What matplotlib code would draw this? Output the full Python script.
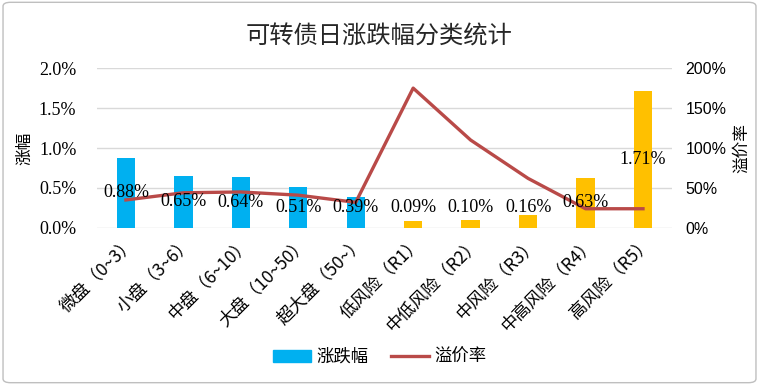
import matplotlib.pyplot as plt
import matplotlib.patches as mpatches
from matplotlib.lines import Line2D
import numpy as np

plt.rcParams['font.family'] = ['Noto Sans CJK SC', 'DejaVu Sans']

# data
categories = ['微盘（0~3）', '小盘（3~6）', '中盘（6~10）', '大盘（10~50）', '超大盘（50~）',
              '低风险（R1）', '中低风险（R2）', '中风险（R3）', '中高风险（R4）', '高风险（R5）']
change_pct = [0.88, 0.65, 0.64, 0.51, 0.39, 0.09, 0.10, 0.16, 0.63, 1.71]
premium_pct = [35, 44, 45, 41, 32, 175, 110, 62, 24, 24]
left_ticks = [0.0, 0.5, 1.0, 1.5, 2.0]
right_ticks = [0, 50, 100, 150, 200]

blue = '#00B0F0'
gold = '#FFC000'
red = '#B94A48'
bar_colors = [blue] * 5 + [gold] * 5

fig = plt.figure(figsize=(7.59, 3.85), dpi=100)
ax = fig.add_axes([0.128, 0.408, 0.757, 0.415])
x = np.arange(len(categories))

ax.bar(x, change_pct, width=0.32, color=bar_colors, zorder=2)
ax.set_xlim(-0.5, len(categories) - 0.5)
ax.set_ylim(0, 2.0)
ax.set_yticks(left_ticks)
ax.set_yticklabels([f'{t:.1f}%' for t in left_ticks], family='Liberation Serif', fontsize=13)
ax.grid(axis='y', color='#D9D9D9', linewidth=1, zorder=0)
ax.set_axisbelow(True)
for s in ax.spines.values():
    s.set_visible(False)
ax.tick_params(axis='y', length=0, pad=15)
ax.tick_params(axis='x', length=0, pad=4)
ax.set_xticks(x)
ax.set_xticklabels(categories, rotation=45, ha='right', rotation_mode='anchor', fontsize=12.5)
ax.set_ylabel('涨幅', fontsize=12, labelpad=4)

ax2 = ax.twinx()
ax2.plot(x, premium_pct, color=red, linewidth=2.4, zorder=3)
ax2.set_ylim(0, 200)
ax2.set_yticks(right_ticks)
ax2.set_yticklabels([f'{t}%' for t in right_ticks], family='Liberation Sans', fontsize=11.5)
for s in ax2.spines.values():
    s.set_visible(False)
ax2.tick_params(length=0, pad=10)
ax2.set_ylabel('溢价率', fontsize=12, rotation=90, labelpad=5)

# data labels at middle of each bar
for i, v in enumerate(change_pct):
    ypos = max(v / 2, 0.25)
    ax2.text(i, ypos * 100, f'{v:.2f}%', ha='center', va='center',
             family='Liberation Serif', fontsize=13, zorder=5)

fig.suptitle('可转债日涨跌幅分类统计', x=0.5, y=0.94, fontsize=17.5, color='#262626')

handles = [mpatches.Patch(color=blue, label='涨跌幅'),
           Line2D([0], [0], color=red, linewidth=2.4, label='溢价率')]
fig.legend(handles=handles, loc='center', bbox_to_anchor=(0.5, 0.073), ncol=2,
           frameon=False, fontsize=12.5, handlelength=2.2, columnspacing=1.3,
           handletextpad=0.3)

fig.patches.append(mpatches.FancyBboxPatch((0.004, 0.006), 0.992, 0.988,
                                           boxstyle='round,pad=0,rounding_size=0.01',
                                           transform=fig.transFigure, fill=False,
                                           edgecolor='#BFBFBF', linewidth=1))

fig.savefig('out.png', dpi=100)
